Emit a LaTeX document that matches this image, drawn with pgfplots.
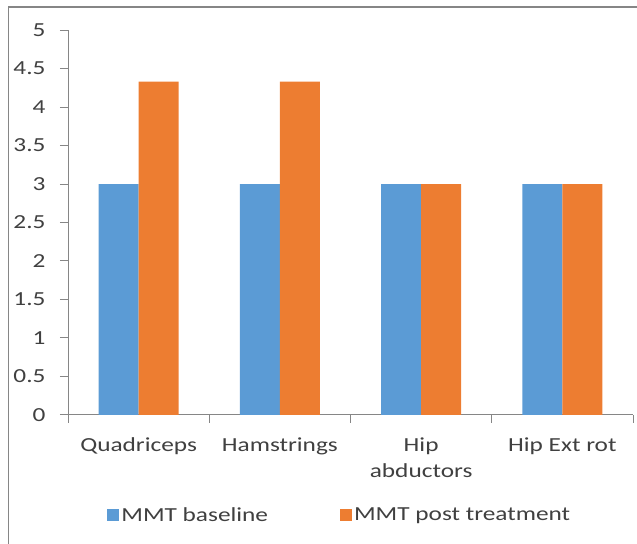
\documentclass[border=0pt]{standalone}
\usepackage{pgfplots}
\pgfplotsset{compat=1.18}
\usepackage{fontspec}
\setmainfont{Carlito}[FakeStretch=1.27]
\definecolor{cblue}{HTML}{5B9BD5}
\definecolor{corange}{HTML}{ED7D31}
\definecolor{axgray}{HTML}{868686}
\definecolor{txt}{HTML}{404040}
\begin{document}
\begin{tikzpicture}
\path[use as bounding box] (0bp,0bp) rectangle (637bp,544bp);
\draw[axgray, line width=1.5bp] (8.5bp,0bp) -- (8.5bp,537bp) -- (637bp,537bp);
\begin{axis}[
  at={(68bp,129bp)}, anchor=south west,
  scale only axis, width=565bp, height=385bp,
  xmin=-0.5, xmax=3.5, ymin=0, ymax=5,
  ybar=0pt, bar width=40bp,
  axis x line*=bottom, axis y line*=left,
  axis line style={axgray, line width=1bp, -},
  tick style={axgray, line width=1bp},
  tick align=outside, major tick length=8bp, minor tick length=8bp,
  ytick={0,0.5,...,5},
  xtick={0,1,2,3},
  xticklabels={Quadriceps,Hamstrings,{Hip\\abductors},Hip Ext rot},
  minor xtick={-0.5,0.5,1.5,2.5,3.5},
  major x tick style={draw=none},
  xticklabel style={align=center, yshift=-11bp},
  yticklabel style={xshift=-11bp},
  /pgf/number format/assume math mode=true,
  tick label style={font=\fontsize{20}{26}\selectfont, text=txt},
  legend style={at={(0.481,-0.26)}, anchor=center, draw=none, fill=none,
    font=\fontsize{20}{26}\selectfont, text=txt, legend columns=2,
    /tikz/every even column/.append style={column sep=70bp}},
  legend image code/.code={\fill[#1] (-5bp,-6bp) rectangle (7bp,6bp);},
]
\addplot[fill=cblue, draw=none] coordinates {(0,3) (1,3) (2,3) (3,3)};
\addplot[fill=corange, draw=none] coordinates {(0,4.33) (1,4.33) (2,3) (3,3)};
\legend{MMT baseline, MMT post treatment}
\end{axis}
\end{tikzpicture}
\end{document}
